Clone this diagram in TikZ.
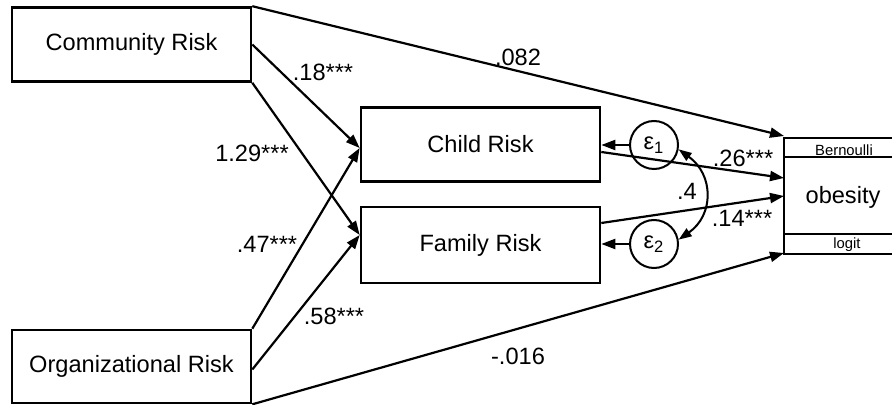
\documentclass[tikz,border=0pt]{standalone}
\usepackage{fontspec}
\setmainfont{Liberation Sans}
\usetikzlibrary{arrows.meta,calc}
\begin{document}
\begin{tikzpicture}[x=0.5pt,y=-0.5pt,
  box/.style={draw,line width=1.3pt,rectangle,minimum width=119.5pt,minimum height=37pt,inner sep=0pt,font=\fontsize{11.8}{14}\selectfont},
  conn/.style={line width=1.1pt,-{Triangle[length=7pt,width=5pt]}},
  lbl/.style={font=\fontsize{11.8}{14}\selectfont,inner sep=0pt},
  err/.style={draw,circle,line width=1pt,minimum size=24pt,inner sep=0pt,font=\fontsize{11.8}{14}\selectfont},
  small/.style={font=\fontsize{7.4}{9}\selectfont,inner sep=0pt},
  frame/.style={line width=1.3pt}]
\useasboundingbox (0,0) rectangle (892,405);
% boxes
\node[box] (comm) at (131.5,44.5) {Community Risk};
\node[box,minimum height=36.5pt] (org) at (131.5,366.5) {Organizational Risk};
\node[box] (child) at (480.5,144.5) {Child Risk};
\node[box,minimum height=38pt] (fam) at (480.5,245) {Family Risk};
\node[err] (e1) at (654,145) {ε\textsubscript{1}};
\node[err] (e2) at (654,244) {ε\textsubscript{2}};
% obesity
\node[lbl] (ob) at (843,197) {obesity};
\node[small] (bern) at (844,150) {Bernoulli};
\node[small] (logit) at (847,245) {logit};
\draw[frame] (892,138) -| (784,254) -- (892,254);
\draw[frame] (784,157) -- (892,157) (784,234) -- (892,234);
\coordinate (o1) at (784,136);
\coordinate (o2) at (784,178);
\coordinate (o3) at (784,196);
\coordinate (o4) at (784,253);
\coordinate (cin) at ($(child.west)+(0,3.5)$);
\coordinate (fin) at ($(fam.west)+(0,-10)$);
% paths
\draw[conn] (comm.north east) -- (o1);
\draw[conn] (comm.east) -- (cin);
\draw[conn] (comm.south east) -- (fin);
\draw[conn] (org.north east) -- (cin);
\draw[conn] ($(org.east)+(0,3)$) -- (fin);
\draw[conn] (org.south east) -- (o4);
\draw[conn] ($(child.east)+(0,7.5)$) -- (o2);
\draw[conn] ($(fam.east)+(0,-22)$) -- (o3);
\draw[conn] (e1.west) -- (e1.west -| child.east);
\draw[conn] (e2.west) -- (e2.west -| fam.east);
\draw[line width=1pt,{Triangle[length=6.5pt,width=4.6pt]}-{Triangle[length=6.5pt,width=4.6pt]}]
  (e1.-10) .. controls (714,175) and (714,215) .. (e2.10);
% labels
\node[lbl] (l082) at (518,57) {.082};
\node[lbl] (l18) at (323,72) {.18***};
\node[lbl] (l129) at (252,153) {1.29***};
\node[lbl] (l47) at (267,244) {.47***};
\node[lbl] (l58) at (334,316) {.58***};
\node[lbl] (l016) at (518,356) {-.016};
\node[lbl] (l26) at (743,158) {.26***};
\node[lbl] (l14) at (742,218) {.14***};
\node[lbl] (l4) at (687,191) {.4};
\end{tikzpicture}
\end{document}
